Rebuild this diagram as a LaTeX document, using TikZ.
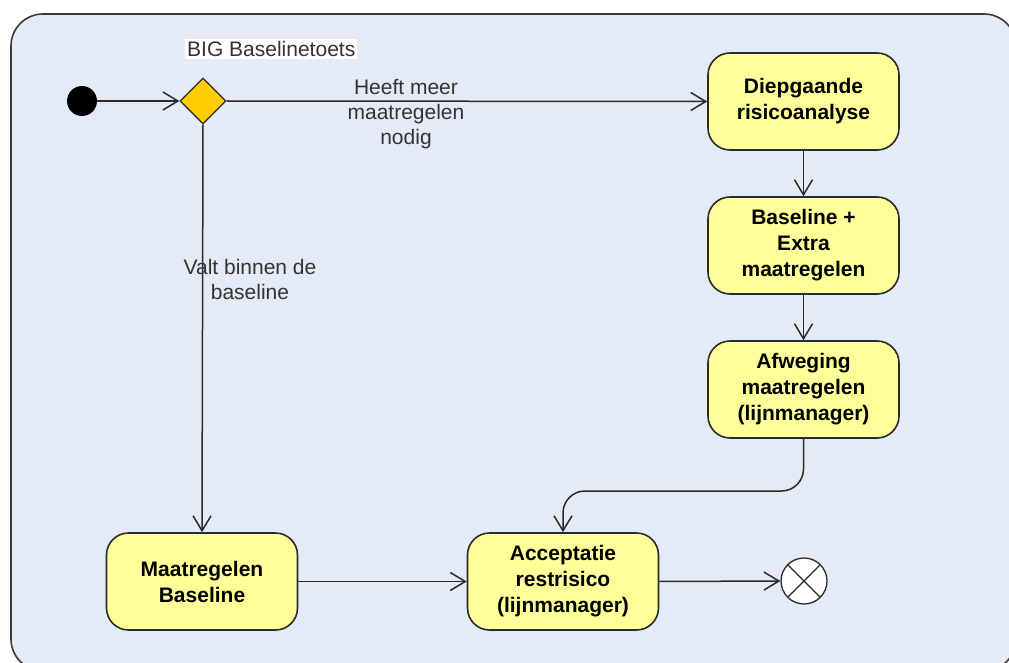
\documentclass[tikz,border=0pt]{standalone}
\usepackage{fontspec}
\setmainfont{Liberation Sans}
\usetikzlibrary{arrows.meta,shapes.geometric,calc}

\definecolor{framefill}{HTML}{E4EAF6}
\definecolor{framedraw}{HTML}{3A3A3A}
\definecolor{actfill}{HTML}{FFFF99}
\definecolor{decfill}{HTML}{FFCC00}
\definecolor{edgecol}{HTML}{2A2A2A}

\tikzset{
  activity/.style={draw=edgecol, fill=actfill, line width=1.6pt, rounded corners=22pt,
    minimum width=191pt, minimum height=97pt, align=center,
    font=\fontsize{21}{26}\selectfont\bfseries, inner sep=2pt},
  decision/.style={diamond, draw=edgecol, fill=decfill, line width=1.3pt,
    minimum width=46pt, minimum height=46pt, inner sep=0pt},
  startnode/.style={circle, fill=black, minimum size=30pt, inner sep=0pt},
  endnode/.style={circle, draw=edgecol, fill=white, line width=1.3pt, minimum size=46pt, inner sep=0pt},
  flow/.style={draw=edgecol, line width=1.5pt, -{Straight Barb[length=15pt,width=18pt,line width=1.5pt]}},
  lbl/.style={align=center, font=\fontsize{21}{25}\selectfont, text=black!80, inner sep=1pt},
}

\begin{document}
\begin{tikzpicture}[x=1pt,y=-1pt]
  \useasboundingbox (0,0) rectangle (1009,663);
  \clip (0,0) rectangle (1009,663);

  % diagram frame
  \draw[framedraw, fill=framefill, line width=1.6pt, rounded corners=32pt]
    (11,14) rectangle (1016,671);

  % nodes
  \node[startnode] (start) at (82,101) {};
  \node[decision] (dec) at (203,101) {};
  \node[lbl, fill=white, anchor=west, inner sep=2pt] (declbl) at (185,49) {BIG Baselinetoets};

  \node[activity] (diep) at (803.5,101.5) {Diepgaande\\risicoanalyse};
  \node[activity] (extra) at (803.5,245.5) {Baseline +\\Extra\\maatregelen};
  \node[activity] (afw) at (803.5,389.5) {Afweging\\maatregelen\\(lijnmanager)};
  \node[activity] (base) at (202,581.5) {Maatregelen\\Baseline};
  \node[activity] (acc) at (563,581.5) {Acceptatie\\restrisico\\(lijnmanager)};
  \node[endnode] (fin) at (804,581) {};
  \draw[edgecol, line width=1.3pt] ($(fin.center)+(-16,-16)$) -- ($(fin.center)+(16,16)$);
  \draw[edgecol, line width=1.3pt] ($(fin.center)+(-16,16)$) -- ($(fin.center)+(16,-16)$);

  % connectors
  \draw[flow] (start) -- (dec.west);
  \draw[flow] (dec.east) -- (diep.west);
  \draw[flow] (dec.south) -- (base.north);
  \draw[flow] (diep.south) -- (extra.north);
  \draw[flow] (extra.south) -- (afw.north);
  \coordinate (turn) at (563,491);
  \draw[flow, rounded corners=22pt] (afw.south) |- (turn) -- (acc.north);
  \draw[flow] (base.east) -- (acc.west);
  \draw[flow] (acc.east) -- (fin.west);

  % guard labels
  \node[lbl] (lhigh) at (406,114) {Heeft meer\\maatregelen\\nodig};
  \node[lbl] (llow) at (250,279) {Valt binnen de\\baseline};
\end{tikzpicture}
\end{document}
